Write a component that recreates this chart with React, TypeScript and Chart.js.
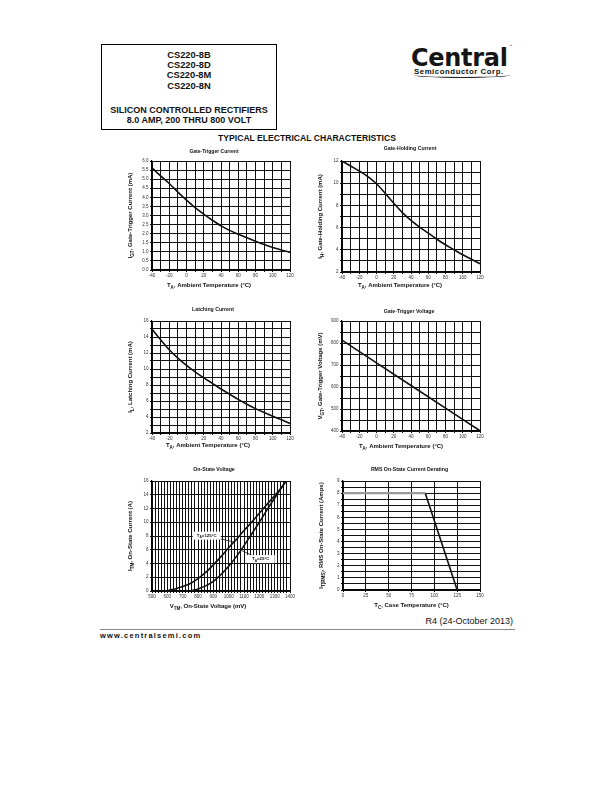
import React, { useEffect, useRef } from 'react';
import { Chart, registerables } from 'chart.js';

Chart.register(...registerables);

const FONT = "'Liberation Sans', Arial, Helvetica, sans-serif";

// ---------------- Data ----------------
const ambientTemp = [-40, -30, -20, -10, 0, 10, 20, 30, 40, 50, 60, 70, 80, 90, 100, 110, 120];
const gateTriggerCurrent = [5.62, 5.18, 4.76, 4.29, 3.85, 3.44, 3.08, 2.74, 2.43, 2.18, 1.97, 1.77, 1.58, 1.4, 1.24, 1.1, 0.97];
const gateHoldingCurrent = [12.0, 11.55, 11.1, 10.6, 9.95, 9.1, 8.2, 7.35, 6.65, 6.05, 5.5, 4.95, 4.45, 4.0, 3.55, 3.15, 2.75];
const latchingCurrent = [15.0, 13.65, 12.4, 11.35, 10.45, 9.65, 8.9, 8.2, 7.5, 6.85, 6.2, 5.6, 5.05, 4.55, 4.1, 3.65, 3.2];

const vgtTemp = [-40, 0, 40, 80, 120];
const gateTriggerVoltage = [813, 710, 607, 504, 401];

const vtmHot = [590, 650, 700, 750, 800, 850, 900, 950, 1000, 1050, 1100, 1150, 1200, 1250, 1300, 1350, 1375];
const itmHot = [0, 0.3, 0.65, 1.1, 1.8, 2.7, 3.8, 5.0, 6.3, 7.5, 8.8, 10.0, 11.3, 12.6, 13.9, 15.2, 16];
const vtmRoom = [750, 800, 850, 900, 950, 1000, 1050, 1100, 1150, 1200, 1250, 1300, 1350, 1375];
const itmRoom = [0, 0.3, 0.75, 1.4, 2.4, 3.6, 5.0, 6.6, 8.3, 10.0, 11.8, 13.5, 15.2, 16];

const caseTempFlat = [0, 90];
const rmsCurrentFlat = [8, 8];
const caseTempSlope = [90, 125];
const rmsCurrentSlope = [8, 0];

const headerParts = ['CS220-8B', 'CS220-8D', 'CS220-8M', 'CS220-8N'];
const headerDesc = ['SILICON CONTROLLED RECTIFIERS', '8.0 AMP, 200 THRU 800 VOLT'];

// ---------------- Helpers ----------------
type Seg = { t: string; sub?: boolean };

const pts = (xs: number[], ys: number[]) => xs.map((x, i) => ({ x, y: ys[i] }));

function drawRich(ctx: CanvasRenderingContext2D, segs: Seg[], x: number, y: number, size: number, rotate: boolean) {
  ctx.save();
  ctx.translate(x, y);
  if (rotate) ctx.rotate(-Math.PI / 2);
  const mainFont = `bold ${size}px ${FONT}`;
  const subFont = `bold ${size * 0.75}px ${FONT}`;
  const widths = segs.map((s) => {
    ctx.font = s.sub ? subFont : mainFont;
    return ctx.measureText(s.t).width;
  });
  const total = widths.reduce((a, b) => a + b, 0);
  let cx = -total / 2;
  ctx.textBaseline = 'middle';
  ctx.textAlign = 'left';
  ctx.fillStyle = '#111';
  segs.forEach((s, i) => {
    ctx.font = s.sub ? subFont : mainFont;
    ctx.fillText(s.t, cx, s.sub ? size * 0.38 : 0);
    cx += widths[i];
  });
  ctx.restore();
}

type Note = { segs: Seg[]; at: [number, number]; from: [number, number]; to: [number, number] };

type Spec = {
  id: string;
  title: string;
  titleY: number;
  titleDx: number;
  titleSize: number;
  plot: { l: number; t: number; r: number; b: number };
  xMin: number; xMax: number; xStep: number; xLabel: (v: number) => string;
  yMin: number; yMax: number; yStep: number; yLabel: (v: number) => string;
  xTitle: Seg[]; xTitleY: number; xTitleDx: number;
  yTitle: Seg[];
  datasets: any[];
  notes?: Note[];
};

const every = (n: number) => (v: number) => (Math.abs(v / n - Math.round(v / n)) < 1e-6 ? String(Math.round(v)) : '');

const curve = (data: { x: number; y: number }[]) => ({
  data,
  borderColor: '#111',
  borderWidth: 1.6,
  pointRadius: 0,
  cubicInterpolationMode: 'monotone',
  fill: false,
});

const tempTitle: Seg[] = [{ t: 'T' }, { t: 'A', sub: true }, { t: ', Ambient Temperature (°C)' }];

const SPECS: Spec[] = [
  {
    id: 'igt', title: 'Gate-Trigger Current', titleY: 152, titleDx: -7, titleSize: 5,
    plot: { l: 152, t: 161, r: 290, b: 270 },
    xMin: -40, xMax: 120, xStep: 10, xLabel: every(20),
    yMin: 0, yMax: 6, yStep: 0.5, yLabel: (v) => v.toFixed(1),
    xTitle: tempTitle, xTitleY: 285.7, xTitleDx: -12,
    yTitle: [{ t: 'I' }, { t: 'GT', sub: true }, { t: ', Gate-Trigger Current (mA)' }],
    datasets: [curve(pts(ambientTemp, gateTriggerCurrent))],
  },
  {
    id: 'ih', title: 'Gate-Holding Current', titleY: 149, titleDx: -1, titleSize: 5.2,
    plot: { l: 342, t: 161, r: 480, b: 272 },
    xMin: -40, xMax: 120, xStep: 10, xLabel: every(20),
    yMin: 2, yMax: 12, yStep: 1, yLabel: every(2),
    xTitle: tempTitle, xTitleY: 285.7, xTitleDx: -11,
    yTitle: [{ t: 'I' }, { t: 'H', sub: true }, { t: ', Gate-Holding Current (mA)' }],
    datasets: [curve(pts(ambientTemp, gateHoldingCurrent))],
  },
  {
    id: 'il', title: 'Latching Current', titleY: 310, titleDx: -8, titleSize: 5.2,
    plot: { l: 152, t: 321, r: 290, b: 433 },
    xMin: -40, xMax: 120, xStep: 10, xLabel: every(20),
    yMin: 2, yMax: 16, yStep: 1, yLabel: every(2),
    xTitle: tempTitle, xTitleY: 445.7, xTitleDx: -13,
    yTitle: [{ t: 'I' }, { t: 'L', sub: true }, { t: ', Latching Current (mA)' }],
    datasets: [curve(pts(ambientTemp, latchingCurrent))],
  },
  {
    id: 'vgt', title: 'Gate-Trigger Voltage', titleY: 312, titleDx: -2, titleSize: 5.2,
    plot: { l: 342, t: 321, r: 480, b: 431 },
    xMin: -40, xMax: 120, xStep: 10, xLabel: every(20),
    yMin: 400, yMax: 900, yStep: 50, yLabel: every(100),
    xTitle: tempTitle, xTitleY: 446, xTitleDx: -10,
    yTitle: [{ t: 'V' }, { t: 'GT', sub: true }, { t: ', Gate-Trigger Voltage (mV)' }],
    datasets: [{ ...curve(pts(vgtTemp, gateTriggerVoltage)), cubicInterpolationMode: 'default', tension: 0 }],
  },
  {
    id: 'vtm', title: 'On-State Voltage', titleY: 470, titleDx: -7, titleSize: 5.2,
    plot: { l: 152, t: 481, r: 290, b: 591 },
    xMin: 500, xMax: 1400, xStep: 20, xLabel: every(100),
    yMin: 0, yMax: 16, yStep: 2, yLabel: every(2),
    xTitle: [{ t: 'V' }, { t: 'TM', sub: true }, { t: ', On-State Voltage (mV)' }], xTitleY: 606.7, xTitleDx: -13,
    yTitle: [{ t: 'I' }, { t: 'TM', sub: true }, { t: ', On-State Current (A)' }],
    datasets: [curve(pts(vtmHot, itmHot)), curve(pts(vtmRoom, itmRoom))],
    notes: [
      { segs: [{ t: 'T' }, { t: 'A', sub: true }, { t: '=125°C' }], at: [857, 8.05], from: [905, 7.8], to: [1040, 7.1] },
      { segs: [{ t: 'T' }, { t: 'A', sub: true }, { t: '=25°C' }], at: [1209, 4.64], from: [1170, 5.0], to: [1083, 5.9] },
    ],
  },
  {
    id: 'rms', title: 'RMS On-State Current Derating', titleY: 470, titleDx: -2, titleSize: 5.2,
    plot: { l: 343, t: 481, r: 480, b: 590 },
    xMin: 0, xMax: 150, xStep: 25, xLabel: (v) => String(v),
    yMin: 0, yMax: 9, yStep: 0.5, yLabel: every(1),
    xTitle: [{ t: 'T' }, { t: 'C', sub: true }, { t: ', Case Temperature (°C)' }], xTitleY: 605.7, xTitleDx: 0,
    yTitle: [{ t: 'I' }, { t: 'T(RMS)', sub: true }, { t: ', RMS On-State Current (Amps)' }],
    datasets: [
      { data: pts(caseTempFlat, rmsCurrentFlat), borderColor: '#9a9a9a', borderWidth: 2.4, pointRadius: 0, tension: 0 },
      { data: pts(caseTempSlope, rmsCurrentSlope), borderColor: '#111', borderWidth: 1.6, pointRadius: 0, tension: 0 },
    ],
  },
];

const Y_AXIS_W = 40;
const PAD_TOP = 16;
const PAD_RIGHT = 10;
const X_AXIS_H = 24;

function buildConfig(s: Spec, canvasTop: number): any {
  const tickFont = { family: FONT, size: 4.5 };
  const textPlugin = {
    id: 'texts-' + s.id,
    afterDraw(chart: any) {
      const ctx: CanvasRenderingContext2D = chart.ctx;
      const a = chart.chartArea;
      const cx = (a.left + a.right) / 2;
      ctx.save();
      ctx.font = `bold ${s.titleSize}px ${FONT}`;
      ctx.fillStyle = '#111';
      ctx.textAlign = 'center';
      ctx.textBaseline = 'middle';
      ctx.fillText(s.title, cx + s.titleDx, s.titleY - canvasTop);
      ctx.restore();
      drawRich(ctx, s.xTitle, cx + s.xTitleDx, s.xTitleY - canvasTop, 6, false);
      drawRich(ctx, s.yTitle, a.left - 21.8, (a.top + a.bottom) / 2, 6, true);
      if (s.notes) {
        const xs = chart.scales.x;
        const ys = chart.scales.y;
        s.notes.forEach((n) => {
          ctx.save();
          ctx.strokeStyle = '#111';
          ctx.lineWidth = 0.8;
          ctx.beginPath();
          ctx.moveTo(xs.getPixelForValue(n.from[0]), ys.getPixelForValue(n.from[1]));
          ctx.lineTo(xs.getPixelForValue(n.to[0]), ys.getPixelForValue(n.to[1]));
          ctx.stroke();
          const px = xs.getPixelForValue(n.at[0]);
          const py = ys.getPixelForValue(n.at[1]);
          ctx.fillStyle = '#fff';
          ctx.fillRect(px - 14, py - 4, 28, 8);
          ctx.restore();
          drawRich(ctx, n.segs, px, py, 4.4, false);
        });
      }
    },
  };
  return {
    type: 'line',
    data: { datasets: s.datasets },
    options: {
      responsive: false,
      animation: false,
      devicePixelRatio: 1,
      layout: { padding: { top: PAD_TOP, right: PAD_RIGHT, left: 0, bottom: 0 } },
      plugins: { legend: { display: false }, tooltip: { enabled: false }, title: { display: false } },
      scales: {
        x: {
          type: 'linear',
          min: s.xMin,
          max: s.xMax,
          afterFit: (sc: any) => { sc.height = X_AXIS_H; },
          ticks: { stepSize: s.xStep, autoSkip: false, maxRotation: 0, minRotation: 0, padding: 1.5, font: tickFont, color: '#333', callback: (v: any) => s.xLabel(Number(v)) },
          grid: { color: '#111', lineWidth: 1, tickLength: 2, drawTicks: true },
          border: { color: '#000', width: 1.2 },
        },
        y: {
          type: 'linear',
          min: s.yMin,
          max: s.yMax,
          afterFit: (sc: any) => { sc.width = Y_AXIS_W; },
          ticks: { stepSize: s.yStep, autoSkip: false, padding: 1.5, font: tickFont, color: '#333', callback: (v: any) => s.yLabel(Number(v)) },
          grid: { color: '#111', lineWidth: 1, tickLength: 2, drawTicks: true },
          border: { color: '#000', width: 1.2 },
        },
      },
    },
    plugins: [textPlugin],
  };
}

function ChartCanvas({ spec }: { spec: Spec }) {
  const ref = useRef<HTMLCanvasElement>(null);
  const L = spec.plot.l - Y_AXIS_W;
  const T = spec.plot.t - PAD_TOP;
  const W = spec.plot.r - L + PAD_RIGHT;
  const H = spec.plot.b - T + X_AXIS_H;
  useEffect(() => {
    const chart = new Chart(ref.current as HTMLCanvasElement, buildConfig(spec, T));
    return () => chart.destroy();
  }, [spec]);
  return (
    <canvas
      ref={ref}
      width={W}
      height={H}
      style={{ position: 'absolute', left: L, top: T, width: W, height: H }}
    />
  );
}

function TextLine({ text, cy, size, bold, left, width, align, spacing }: any) {
  const lh = Math.round(size * 1.2);
  return (
    <div
      style={{
        position: 'absolute',
        left,
        width,
        top: cy - lh / 2,
        height: lh,
        lineHeight: lh + 'px',
        fontSize: size,
        fontWeight: bold ? 700 : 400,
        textAlign: align || 'center',
        whiteSpace: 'nowrap',
        letterSpacing: spacing || 0,
        color: '#111',
      }}
    >
      {text}
    </div>
  );
}

export default function App() {
  const partY = [55, 65.3, 75.7, 86];
  const descY = [110, 120];
  return (
    <div
      style={{
        position: 'absolute',
        left: 0,
        top: 0,
        width: 612,
        height: 792,
        background: '#fff',
        fontFamily: FONT,
        overflow: 'hidden',
      }}
    >
      <div style={{ position: 'absolute', left: 101, top: 44, width: 174, height: 84, border: '1px solid #000' }} />
      {headerParts.map((p, i) => (
        <TextLine key={p} text={p} cy={partY[i]} size={9.3} bold left={101} width={176} />
      ))}
      {headerDesc.map((p, i) => (
        <TextLine key={p} text={p} cy={descY[i]} size={9} bold left={101} width={176} />
      ))}
      <TextLine text="TYPICAL ELECTRICAL CHARACTERISTICS" cy={138.3} size={8.6} bold left={207} width={200} />

      <div
        style={{
          position: 'absolute',
          left: 411,
          top: 46.6,
          height: 23,
          lineHeight: '23px',
          fontSize: 24,
          fontFamily: "'DejaVu Sans', sans-serif",
          fontWeight: 700,
          letterSpacing: -0.3,
          color: '#151515',
          whiteSpace: 'nowrap',
        }}
      >
        Central
      </div>
      <div style={{ position: 'absolute', left: 509, top: 44, fontSize: 3.5, lineHeight: '4px', color: '#333' }}>™</div>
      <div
        style={{
          position: 'absolute',
          left: 414,
          top: 67,
          height: 9,
          lineHeight: '9px',
          fontSize: 7.8,
          fontWeight: 700,
          letterSpacing: 0.55,
          color: '#111',
          whiteSpace: 'nowrap',
        }}
      >
        Semiconductor Corp.
      </div>
      <div
        style={{
          position: 'absolute',
          left: 414,
          top: 72,
          width: 96,
          height: 5,
          borderBottom: '1.2px solid #222',
          borderRadius: '0 0 60% 60%',
        }}
      />

      {SPECS.map((s) => (
        <ChartCanvas key={s.id} spec={s} />
      ))}

      <TextLine text="R4 (24-October 2013)" cy={621} size={9} left={313} width={200} align="right" />
      <div style={{ position: 'absolute', left: 100, top: 628.5, width: 415, height: 1, background: '#888' }} />
      <TextLine text="www.centralsemi.com" cy={635} size={7.5} bold left={100} width={200} align="left" spacing={1.2} />
    </div>
  );
}
